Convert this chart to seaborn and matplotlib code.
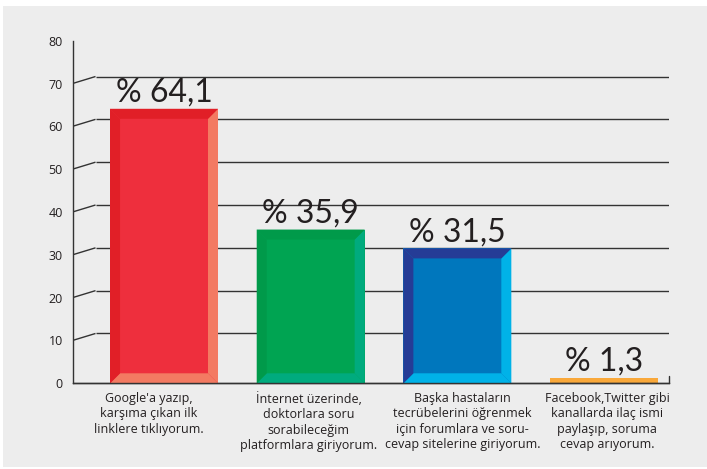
import matplotlib
matplotlib.use("Agg")
import matplotlib.pyplot as plt
import matplotlib.transforms as mtransforms
from matplotlib.patches import Polygon, Rectangle
import seaborn as sns
import pandas as pd

# --- data ---------------------------------------------------------------
categories = [
    "Google'a yazıp,\nkarşıma çıkan ilk\nlinklere tıklıyorum.",
    "İnternet üzerinde,\ndoktorlara soru\nsorabileceğim\nplatformlara giriyorum.",
    "Başka hastaların\ntecrübelerini öğrenmek\niçin forumlara ve soru-\ncevap sitelerine giriyorum.",
    "Facebook,Twitter gibi\nkanallarda ilaç ismi\npaylaşıp, soruma\ncevap arıyorum.",
]
values = [64.1, 35.9, 31.5, 1.3]
value_labels = ["% 64,1", "% 35,9", "% 31,5", "% 1,3"]
y_ticks = [0, 10, 20, 30, 40, 50, 60, 70, 80]

# face / dark bevel (top-left) / light bevel (bottom-right)
face_colors = ["#ee2f3d", "#00a452", "#0077bd", "#f9a83a"]
dark_colors = ["#e11f27", "#009a4a", "#253c96", "#f9a83a"]
light_colors = ["#f37a62", "#00ab7e", "#00b2e8", "#f9a83a"]

TEXT = "#231f20"
LINE = "#333333"

sns.set_theme(style="white")
plt.rcParams["font.family"] = ["Lato", "DejaVu Sans"]

W, H, DPI = 707, 469, 100
fig = plt.figure(figsize=(W / DPI, H / DPI), dpi=DPI, facecolor="white")

# grey panel behind everything
fig.patches.append(Rectangle((3 / W, 2 / H), (W - 3) / W, (H - 8) / H,
                             transform=fig.transFigure, facecolor="#ededed",
                             edgecolor="none", zorder=-10))

ax_left, ax_right = 72.5, 669.0
ax_top, ax_bottom = 40.7, 383.3
ax = fig.add_axes([ax_left / W, (H - ax_bottom) / H,
                   (ax_right - ax_left) / W, (ax_bottom - ax_top) / H])
ax.set_facecolor("none")

df = pd.DataFrame({"yanit": categories, "oran": values})
sns.barplot(data=df, x="yanit", y="oran", hue="yanit", palette=face_colors,
            saturation=1, width=0.736, legend=False, ax=ax, zorder=2)

ax.set_ylim(0, 80)
ax.set_xlim(-0.624, 3.443)
ax.set_yticks(y_ticks)
ax.set_yticklabels([str(t) for t in y_ticks])
ax.set_xlabel("")
ax.set_ylabel("")

for side in ["top", "right"]:
    ax.spines[side].set_visible(False)
for side in ["left", "bottom"]:
    ax.spines[side].set_color(LINE)
    ax.spines[side].set_linewidth(1.0)
ax.tick_params(axis="both", length=0)
ax.tick_params(axis="y", labelsize=9, labelcolor=TEXT, pad=7)
ax.tick_params(axis="x", labelsize=9, labelcolor=TEXT, pad=6)
for lab in ax.get_xticklabels():
    lab.set_family(["Open Sans", "DejaVu Sans"])
    lab.set_linespacing(1.26)
    lab.set_verticalalignment("top")
for lab in ax.get_yticklabels():
    lab.set_family(["Open Sans", "DejaVu Sans"])

# pixel -> data conversion
ax_w_px = ax_right - ax_left
ax_h_px = ax_bottom - ax_top
x0, x1 = ax.get_xlim()
px_per_x = ax_w_px / (x1 - x0)
px_per_y = ax_h_px / 80.0

# receding back wall: slanted connectors and back gridlines
depth_dx_ax = 23 / ax_w_px          # in axes fraction
depth_dy = 7 / px_per_y             # in data units
ytrans = ax.get_yaxis_transform()
for t in y_ticks[1:]:
    ax.plot([0, depth_dx_ax], [t, t + depth_dy], transform=ytrans,
            color=LINE, lw=1.0, zorder=0.5, solid_capstyle="butt")
    ax.plot([depth_dx_ax, 1], [t + depth_dy, t + depth_dy], transform=ytrans,
            color=LINE, lw=1.0, zorder=0.5, solid_capstyle="butt")
ax.plot([1, 1], [0, depth_dy], transform=ytrans, color=LINE, lw=1.0,
        zorder=0.5, clip_on=False)
ax.plot([0, 1], [0, 0], transform=ytrans, color=LINE, lw=1.0, zorder=4,
        clip_on=False)

# bevelled edges on each bar
bx = 10 / px_per_x
by = 10 / px_per_y
bars = sorted(ax.patches, key=lambda p: p.get_x())
for i, bar in enumerate(bars):
    xa = bar.get_x()
    xb = xa + bar.get_width()
    h = bar.get_height()
    bar.set_edgecolor("none")
    if h > 2 * by:
        top = [(xa, h), (xb, h), (xb - bx, h - by), (xa + bx, h - by)]
        left = [(xa, 0), (xa, h), (xa + bx, h - by), (xa + bx, by)]
        right = [(xb, 0), (xb, h), (xb - bx, h - by), (xb - bx, by)]
        bottom = [(xa, 0), (xb, 0), (xb - bx, by), (xa + bx, by)]
        for pts, col in [(right, light_colors[i]), (bottom, light_colors[i]),
                         (top, dark_colors[i]), (left, dark_colors[i])]:
            ax.add_patch(Polygon(pts, closed=True, facecolor=col,
                                 edgecolor="none", zorder=3))
    # value label above bar
    ax.text(xa + bar.get_width() / 2, h + 7 / px_per_y, value_labels[i],
            ha="center", va="baseline", fontsize=23, color=TEXT, zorder=5)

# nudge category labels so the long lines do not collide
nudges_px = [-15, -2, 5, 3]
for lab, dx in zip(ax.get_xticklabels(), nudges_px):
    lab.set_transform(lab.get_transform() +
                      mtransforms.ScaledTranslation(dx / DPI, 0, fig.dpi_scale_trans))

fig.savefig("out.png", dpi=DPI, facecolor=fig.get_facecolor())
